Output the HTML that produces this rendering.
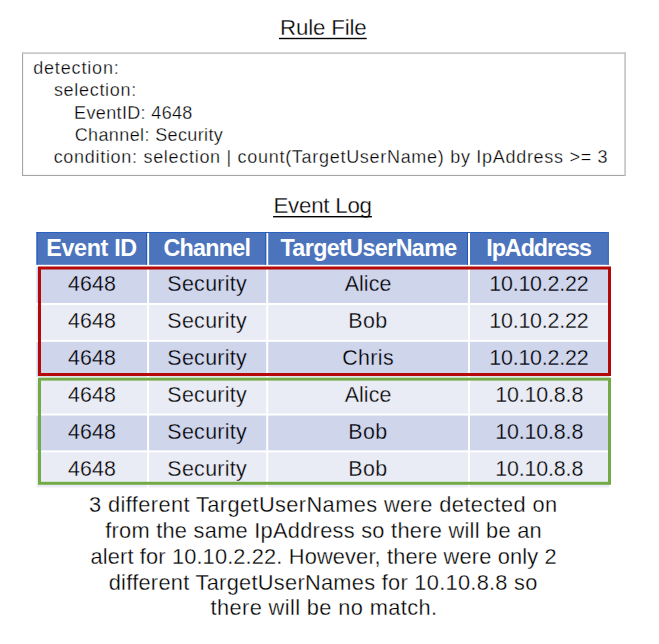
<!DOCTYPE html>
<html><head><meta charset="utf-8"><title>Rule</title>
<style>
html,body{margin:0;padding:0;background:#fff;}
body{width:659px;height:644px;overflow:hidden;}
svg{display:block;font-family:"Liberation Sans",sans-serif;}
</style></head>
<body>
<svg width="659" height="644" viewBox="0 0 659 644">
<text x="280.06" y="34.80" font-size="22.3" font-weight="normal" fill="#000" stroke="#fff" stroke-width="0.3" letter-spacing="-0.161">Rule File</text>
<rect x="279" y="37.8" width="87.7" height="1.4" fill="#000"/>
<text x="273.46" y="213.30" font-size="22.3" font-weight="normal" fill="#000" stroke="#fff" stroke-width="0.3" letter-spacing="-0.234">Event Log</text>
<rect x="273.1" y="216.0" width="98.8" height="1.4" fill="#000"/>
<rect x="22" y="52.4" width="1.1" height="123.6" fill="#a4a4a4"/>
<rect x="22" y="174.9" width="604" height="1.1" fill="#a4a4a4"/>
<rect x="22" y="52.4" width="604" height="1.5" fill="#c2c2c2"/>
<rect x="624.3" y="52.4" width="1.6" height="123.6" fill="#c2c2c2"/>
<text x="33.13" y="74.30" font-size="18.0" font-weight="normal" fill="#000" stroke="#fff" stroke-width="0.3" letter-spacing="0.846">detection:</text>
<text x="53.91" y="96.40" font-size="18.0" font-weight="normal" fill="#000" stroke="#fff" stroke-width="0.3" letter-spacing="0.696">selection:</text>
<text x="74.11" y="118.50" font-size="18.0" font-weight="normal" fill="#000" stroke="#fff" stroke-width="0.3" letter-spacing="0.348">EventID: 4648</text>
<text x="74.70" y="140.60" font-size="18.0" font-weight="normal" fill="#000" stroke="#fff" stroke-width="0.3" letter-spacing="0.380">Channel: Security</text>
<text x="53.63" y="162.70" font-size="18.0" font-weight="normal" fill="#000" stroke="#fff" stroke-width="0.3" letter-spacing="0.705">condition: selection | count(TargetUserName) by IpAddress &gt;= 3</text>
<rect x="36.4" y="232" width="110.7" height="32.8" fill="#4C74BD"/>
<rect x="149.1" y="232" width="117.1" height="32.8" fill="#4C74BD"/>
<rect x="268.2" y="232" width="199.8" height="32.8" fill="#4C74BD"/>
<rect x="470" y="232" width="139" height="32.8" fill="#4C74BD"/>
<rect x="36.4" y="232" width="572.4" height="1.0" fill="#2A60BE"/>
<rect x="36.6" y="232" width="1.2" height="32.8" fill="#2A60BE"/>
<rect x="146.1" y="232" width="1.0" height="32.8" fill="#2058B8"/>
<rect x="265.2" y="232" width="1.0" height="32.8" fill="#2058B8"/>
<rect x="467.0" y="232" width="1.0" height="32.8" fill="#2058B8"/>
<rect x="607.2" y="232" width="1.6" height="32.8" fill="#4670BC"/>
<rect x="36.4" y="266.8" width="110.7" height="36.2" fill="#CFD5EA"/>
<rect x="149.1" y="266.8" width="117.1" height="36.2" fill="#CFD5EA"/>
<rect x="268.2" y="266.8" width="199.8" height="36.2" fill="#CFD5EA"/>
<rect x="470" y="266.8" width="139" height="36.2" fill="#CFD5EA"/>
<rect x="36.4" y="305.0" width="110.7" height="34.84" fill="#E9EBF5"/>
<rect x="149.1" y="305.0" width="117.1" height="34.84" fill="#E9EBF5"/>
<rect x="268.2" y="305.0" width="199.8" height="34.84" fill="#E9EBF5"/>
<rect x="470" y="305.0" width="139" height="34.84" fill="#E9EBF5"/>
<rect x="36.4" y="341.84" width="110.7" height="34.84" fill="#CFD5EA"/>
<rect x="149.1" y="341.84" width="117.1" height="34.84" fill="#CFD5EA"/>
<rect x="268.2" y="341.84" width="199.8" height="34.84" fill="#CFD5EA"/>
<rect x="470" y="341.84" width="139" height="34.84" fill="#CFD5EA"/>
<rect x="36.4" y="378.68" width="110.7" height="34.84" fill="#E9EBF5"/>
<rect x="149.1" y="378.68" width="117.1" height="34.84" fill="#E9EBF5"/>
<rect x="268.2" y="378.68" width="199.8" height="34.84" fill="#E9EBF5"/>
<rect x="470" y="378.68" width="139" height="34.84" fill="#E9EBF5"/>
<rect x="36.4" y="415.52" width="110.7" height="34.84" fill="#CFD5EA"/>
<rect x="149.1" y="415.52" width="117.1" height="34.84" fill="#CFD5EA"/>
<rect x="268.2" y="415.52" width="199.8" height="34.84" fill="#CFD5EA"/>
<rect x="470" y="415.52" width="139" height="34.84" fill="#CFD5EA"/>
<rect x="36.4" y="452.36" width="110.7" height="35.04" fill="#E9EBF5"/>
<rect x="149.1" y="452.36" width="117.1" height="35.04" fill="#E9EBF5"/>
<rect x="268.2" y="452.36" width="199.8" height="35.04" fill="#E9EBF5"/>
<rect x="470" y="452.36" width="139" height="35.04" fill="#E9EBF5"/>
<text x="46.23" y="255.70" font-size="23.3" font-weight="bold" fill="#fff" letter-spacing="-0.328">Event ID</text>
<text x="163.47" y="255.70" font-size="23.3" font-weight="bold" fill="#fff" letter-spacing="-0.726">Channel</text>
<text x="280.47" y="255.70" font-size="23.3" font-weight="bold" fill="#fff" letter-spacing="-0.609">TargetUserName</text>
<text x="486.23" y="255.70" font-size="23.3" font-weight="bold" fill="#fff" letter-spacing="-1.029">IpAddress</text>
<text x="68.02" y="291.30" font-size="21.4" font-weight="normal" fill="#000" stroke="#CFD5EA" stroke-width="0.3" letter-spacing="0.110">4648</text>
<text x="167.34" y="291.30" font-size="21.4" font-weight="normal" fill="#000" stroke="#CFD5EA" stroke-width="0.3" letter-spacing="0.316">Security</text>
<text x="344.65" y="291.30" font-size="21.4" font-weight="normal" fill="#000" stroke="#CFD5EA" stroke-width="0.3" letter-spacing="0.095">Alice</text>
<text x="489.29" y="291.30" font-size="21.4" font-weight="normal" fill="#000" stroke="#CFD5EA" stroke-width="0.3" letter-spacing="-0.204">10.10.2.22</text>
<text x="68.02" y="328.14" font-size="21.4" font-weight="normal" fill="#000" stroke="#E9EBF5" stroke-width="0.3" letter-spacing="0.110">4648</text>
<text x="167.34" y="328.14" font-size="21.4" font-weight="normal" fill="#000" stroke="#E9EBF5" stroke-width="0.3" letter-spacing="0.316">Security</text>
<text x="348.23" y="328.14" font-size="21.4" font-weight="normal" fill="#000" stroke="#E9EBF5" stroke-width="0.3" letter-spacing="0.491">Bob</text>
<text x="489.29" y="328.14" font-size="21.4" font-weight="normal" fill="#000" stroke="#E9EBF5" stroke-width="0.3" letter-spacing="-0.204">10.10.2.22</text>
<text x="68.02" y="364.98" font-size="21.4" font-weight="normal" fill="#000" stroke="#CFD5EA" stroke-width="0.3" letter-spacing="0.110">4648</text>
<text x="167.34" y="364.98" font-size="21.4" font-weight="normal" fill="#000" stroke="#CFD5EA" stroke-width="0.3" letter-spacing="0.316">Security</text>
<text x="342.23" y="364.98" font-size="21.4" font-weight="normal" fill="#000" stroke="#CFD5EA" stroke-width="0.3" letter-spacing="0.376">Chris</text>
<text x="489.29" y="364.98" font-size="21.4" font-weight="normal" fill="#000" stroke="#CFD5EA" stroke-width="0.3" letter-spacing="-0.204">10.10.2.22</text>
<text x="68.02" y="401.82" font-size="21.4" font-weight="normal" fill="#000" stroke="#E9EBF5" stroke-width="0.3" letter-spacing="0.110">4648</text>
<text x="167.34" y="401.82" font-size="21.4" font-weight="normal" fill="#000" stroke="#E9EBF5" stroke-width="0.3" letter-spacing="0.316">Security</text>
<text x="344.65" y="401.82" font-size="21.4" font-weight="normal" fill="#000" stroke="#E9EBF5" stroke-width="0.3" letter-spacing="0.095">Alice</text>
<text x="495.19" y="401.82" font-size="21.4" font-weight="normal" fill="#000" stroke="#E9EBF5" stroke-width="0.3" letter-spacing="-0.140">10.10.8.8</text>
<text x="68.02" y="438.66" font-size="21.4" font-weight="normal" fill="#000" stroke="#CFD5EA" stroke-width="0.3" letter-spacing="0.110">4648</text>
<text x="167.34" y="438.66" font-size="21.4" font-weight="normal" fill="#000" stroke="#CFD5EA" stroke-width="0.3" letter-spacing="0.316">Security</text>
<text x="348.23" y="438.66" font-size="21.4" font-weight="normal" fill="#000" stroke="#CFD5EA" stroke-width="0.3" letter-spacing="0.491">Bob</text>
<text x="495.19" y="438.66" font-size="21.4" font-weight="normal" fill="#000" stroke="#CFD5EA" stroke-width="0.3" letter-spacing="-0.140">10.10.8.8</text>
<text x="68.02" y="475.50" font-size="21.4" font-weight="normal" fill="#000" stroke="#E9EBF5" stroke-width="0.3" letter-spacing="0.110">4648</text>
<text x="167.34" y="475.50" font-size="21.4" font-weight="normal" fill="#000" stroke="#E9EBF5" stroke-width="0.3" letter-spacing="0.316">Security</text>
<text x="348.23" y="475.50" font-size="21.4" font-weight="normal" fill="#000" stroke="#E9EBF5" stroke-width="0.3" letter-spacing="0.491">Bob</text>
<text x="495.19" y="475.50" font-size="21.4" font-weight="normal" fill="#000" stroke="#E9EBF5" stroke-width="0.3" letter-spacing="-0.140">10.10.8.8</text>
<rect x="39.5" y="268" width="570" height="106.5" fill="none" stroke="#B50808" stroke-width="3"/>
<rect x="39.5" y="379.1" width="570" height="104.2" fill="none" stroke="#74AA45" stroke-width="3"/>
<text x="89.08" y="512.00" font-size="21.8" font-weight="normal" fill="#000" stroke="#fff" stroke-width="0.3" letter-spacing="0.391">3 different TargetUserNames were detected on</text>
<text x="105.17" y="538.00" font-size="21.8" font-weight="normal" fill="#000" stroke="#fff" stroke-width="0.3" letter-spacing="0.270">from the same IpAddress so there will be an</text>
<text x="90.47" y="563.50" font-size="21.8" font-weight="normal" fill="#000" stroke="#fff" stroke-width="0.3" letter-spacing="0.146">alert for 10.10.2.22. However, there were only 2</text>
<text x="108.67" y="590.00" font-size="21.8" font-weight="normal" fill="#000" stroke="#fff" stroke-width="0.3" letter-spacing="0.282">different TargetUserNames for 10.10.8.8 so</text>
<text x="210.57" y="615.00" font-size="21.8" font-weight="normal" fill="#000" stroke="#fff" stroke-width="0.3" letter-spacing="0.385">there will be no match.</text>
</svg>
</body></html>
